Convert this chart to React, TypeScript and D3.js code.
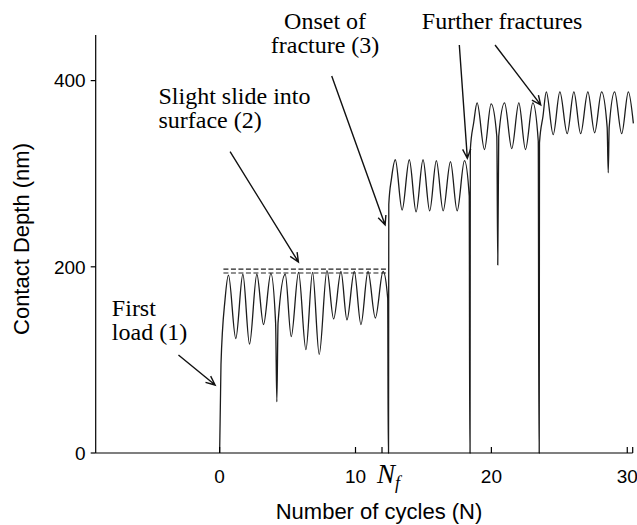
import React from "react";
import * as d3 from "d3";

// contact depth trace (cycles, nm)
const seg1Cycles = [0, 0.1, 0.4, 0.65, 1.19, 1.71, 2.2, 2.74, 3.23, 3.77, 4.12, 4.21, 4.3, 4.83, 5.27, 5.81, 6.35, 6.84, 7.33, 7.9, 8.39, 8.93, 9.37, 9.91, 10.4, 10.92, 11.46, 12.03, 12.37, 12.41];
const seg1Depth = [0, 95, 165, 191, 123, 192, 117, 192, 138, 193, 140, 55, 140, 192, 125, 194, 111, 194, 106, 196, 144, 195, 143, 195, 138, 195, 145, 195, 166, 0];

const seg2Cycles = [12.43, 12.45, 12.65, 12.93, 13.43, 13.96, 14.46, 14.97, 15.46, 15.95, 16.45, 16.99, 17.48, 18.02, 18.37, 18.41];
const seg2Depth = [0, 267, 295, 315, 261, 315, 259, 315, 260, 314, 260, 313, 260, 314, 276, 0];

const seg3Cycles = [18.43, 18.45, 18.7, 18.95, 19.49, 19.98, 20.4, 20.47, 20.54, 20.97, 21.5, 22.02, 22.51, 23.05, 23.45, 23.5];
const seg3Depth = [0, 326, 355, 376, 326, 375, 340, 202, 340, 376, 327, 376, 326, 376, 335, 0];

const seg4Cycles = [23.52, 23.54, 23.8, 24.04, 24.55, 25.04, 25.58, 26.07, 26.57, 27.1, 27.6, 28.11, 28.52, 28.6, 28.67, 29.07, 29.59, 30.08, 30.45];
const seg4Depth = [0, 333, 362, 388, 342, 388, 343, 388, 343, 388, 344, 388, 350, 301, 350, 388, 343, 388, 354];

const xTicks = [0, 10, 20, 30];
const yTicks = [0, 200, 400];
const nfCycle = 11.95;

// the two dashed reference levels over the first plateau
const dashLevels = [197.5, 193.3];
const dashFrom = 0.28;
const dashTo = 12.44;

// annotations in data units
const notes = [
  { lines: ["First", "load (1)"], at: [-7.93, 147.2], anchor: "start" },
  { lines: ["Slight slide into", "surface (2)"], at: [-4.5, 375], anchor: "start" },
  { lines: ["Onset of", "fracture (3)"], at: [7.76, 455.2], anchor: "middle" },
  { lines: ["Further fractures"], at: [14.88, 455.2], anchor: "start" },
];
const arrows = [
  { from: [-3.03, 105.3], to: [-0.33, 73] },
  { from: [0.77, 323.7], to: [5.8, 205.2] },
  { from: [8.25, 405], to: [12.18, 245] },
  { from: [17.64, 438.3], to: [18.23, 316.6] },
  { from: [20.27, 438.3], to: [23.63, 373.9] },
];

const xMin = -9.12, xMax = 30.4, yMax = 449;
const serif = "'Liberation Serif', 'Times New Roman', serif";
const sans = "'Liberation Sans', Arial, sans-serif";

export default function App() {
  const W = 637, H = 525;
  const x = d3.scaleLinear().domain([xMin, xMax]).range([95.7, 632.7]);
  const y = d3.scaleLinear().domain([0, yMax]).range([453, 35]);

  const cycles = [...seg1Cycles, ...seg2Cycles, ...seg3Cycles, ...seg4Cycles];
  const depth = [...seg1Depth, ...seg2Depth, ...seg3Depth, ...seg4Depth];
  const pts: [number, number][] = cycles.map((c, i) => [c, depth[i]]);

  const line = d3
    .line<[number, number]>()
    .x((d) => x(d[0]))
    .y((d) => y(d[1]))
    .curve(d3.curveMonotoneX);

  const x0 = x(xMin), x1 = x(xMax), yb = y(0), yt = y(yMax);

  const arrowHead = (a: { from: number[]; to: number[] }) => {
    const fx = x(a.from[0]), fy = y(a.from[1]);
    const tx = x(a.to[0]), ty = y(a.to[1]);
    const ang = Math.atan2(ty - fy, tx - fx);
    const len = 10, spread = 0.42;
    const p1 = [tx - len * Math.cos(ang - spread), ty - len * Math.sin(ang - spread)];
    const p2 = [tx - len * Math.cos(ang + spread), ty - len * Math.sin(ang + spread)];
    return `M${fx},${fy}L${tx},${ty}M${p1[0]},${p1[1]}L${tx},${ty}L${p2[0]},${p2[1]}`;
  };

  return (
    <svg width={W} height={H} style={{ position: "absolute", left: 0, top: 0, background: "#fff" }}>
      {/* dashed levels */}
      {dashLevels.map((v, i) => (
        <line key={"d" + i} x1={x(dashFrom)} x2={x(dashTo)} y1={y(v)} y2={y(v)}
          stroke="#222" strokeWidth={1.1} strokeDasharray="5,2.5" />
      ))}

      {/* trace */}
      <path d={line(pts) || ""} fill="none" stroke="#1c1c1c" strokeWidth={1.3} strokeLinejoin="round" />

      {/* axes */}
      <line x1={x0} x2={x0} y1={yt} y2={yb} stroke="#000" strokeWidth={1.2} />
      <line x1={x0} x2={x1} y1={yb} y2={yb} stroke="#000" strokeWidth={1.2} />
      {yTicks.map((t) => (
        <g key={"y" + t}>
          <line x1={x0 - 5} x2={x0} y1={y(t)} y2={y(t)} stroke="#000" strokeWidth={1.2} />
          <text x={x0 - 10} y={y(t)} dy="0.36em" textAnchor="end" fontFamily={sans} fontSize={19}>{t}</text>
        </g>
      ))}
      {[...xTicks, nfCycle, xMax].map((t, i) => (
        <line key={"xt" + i} x1={x(t)} x2={x(t)} y1={yb} y2={yb - 6} stroke="#000" strokeWidth={1.2} />
      ))}
      {xTicks.map((t) => (
        <text key={"xl" + t} x={x(t)} y={483} textAnchor="middle" fontFamily={sans} fontSize={19}>{t}</text>
      ))}
      <text x={x(nfCycle) - 5} y={483} fontFamily={serif} fontStyle="italic" fontSize={27}>
        N<tspan fontSize={18} dy={6}>f</tspan>
      </text>

      {/* axis titles */}
      <text x={379} y={519} textAnchor="middle" fontFamily={sans} fontSize={22}>Number of cycles (N)</text>
      <text transform={`translate(29,${(yt + yb) / 2 - 5}) rotate(-90)`} textAnchor="middle" fontFamily={sans} fontSize={22}>
        Contact Depth (nm)
      </text>

      {/* annotations */}
      {notes.map((n, i) => (
        <text key={"n" + i} x={x(n.at[0])} y={y(n.at[1])} textAnchor={n.anchor} fontFamily={serif} fontSize={24}>
          {n.lines.map((l, j) => (
            <tspan key={j} x={x(n.at[0])} dy={j === 0 ? 0 : 24}>{l}</tspan>
          ))}
        </text>
      ))}
      {arrows.map((a, i) => (
        <path key={"a" + i} d={arrowHead(a)} fill="none" stroke="#111" strokeWidth={1.4} />
      ))}
    </svg>
  );
}
